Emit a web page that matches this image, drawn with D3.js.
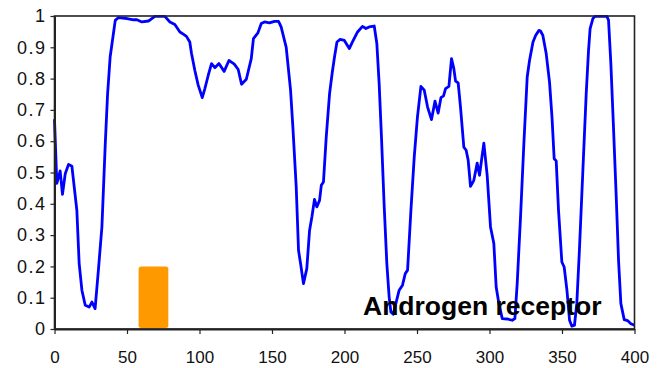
<!DOCTYPE html>
<html>
<head>
<meta charset="utf-8">
<script src="https://cdn.jsdelivr.net/npm/d3@7"></script>
<style>
  html, body { margin: 0; padding: 0; background: #fff; }
  svg { display: block; }
  text { font-family: Arial, "Liberation Sans", sans-serif; }
</style>
</head>
<body>
<svg id="chart" width="661" height="368"></svg>
<script>
// Residue position along the sequence
const positions = [
  0, 1.6, 3.9, 5.5, 7.4, 9.7, 12, 15.4, 17, 18.9, 21.2, 23.9, 25.8, 28, 30.3, 32.7, 35, 36.6, 38.4, 40.3,
  41.9, 44.1, 50, 54.5, 56.8, 60.3, 64.8, 69.2, 76.1, 79.6, 83, 86.5, 88.8, 91, 93.3, 94.5, 96.8, 99.1,
  101.9, 103.7, 106, 108.3, 110.6, 113.4, 117, 120.3, 124, 126.7, 129, 132.3, 135.7, 137.2, 140.3, 142.6,
  144.8, 148.2, 151.7, 154.5, 156.3, 159.8, 162.8, 164.4, 166.7, 168.3, 169.7, 171.7, 174, 175.9, 177.5,
  179.3, 180.9, 182.8, 184, 185.5, 187.4, 189.7, 191.6, 193.1, 194.8, 197, 199.9, 203.3, 205.5, 209,
  212.4, 214.8, 217, 220.5, 222.3, 223.9, 225.5, 227.3, 229.2, 230.8, 232, 233.6, 235.4, 237.7, 240,
  241.9, 243.5, 245.8, 248.1, 250.3, 252.7, 255, 257.3, 260, 262.4, 264.6, 266.5, 268.3, 269.7, 272,
  273.8, 275.4, 276.6, 278.4, 280, 282.3, 283.9, 285.3, 286.9, 289.2, 291.5, 293.1, 294.5, 296.1, 298.4,
  300.7, 303, 304.6, 306.5, 308.8, 312.2, 315.7, 317.5, 319.1, 321.4, 323.7, 326, 327.6, 330, 331.8,
  334.1, 335.2, 336.8, 339.1, 341.4, 343.1, 344.6, 346, 347.6, 349.9, 351.5, 353.4, 355.2, 356.8, 358.6,
  360.2, 362, 364.4, 366.7, 368.3, 369.4, 371.3, 372.9, 381, 382.1, 383.7, 385.5, 387.4, 389, 390.6,
  392.9, 395.2, 397.5, 400
];

// Disorder score at each position (0..1)
const scores = [
  0.67, 0.465, 0.505, 0.43, 0.496, 0.526, 0.52, 0.38, 0.21, 0.124, 0.076, 0.07, 0.086, 0.065, 0.19, 0.326, 0.59, 0.75, 0.87, 0.933,
  0.986, 0.995, 0.992, 0.988, 0.988, 0.981, 0.984, 0.999, 0.999, 0.981, 0.973, 0.949, 0.942, 0.935, 0.917, 0.88, 0.826, 0.779,
  0.739, 0.768, 0.81, 0.848, 0.835, 0.848, 0.823, 0.858, 0.846, 0.829, 0.782, 0.798, 0.864, 0.928, 0.946, 0.976,
  0.981, 0.978, 0.983, 0.983, 0.965, 0.9, 0.763, 0.645, 0.454, 0.251, 0.209, 0.145, 0.193, 0.315, 0.358,
  0.414, 0.39, 0.411, 0.459, 0.47, 0.613, 0.752, 0.821, 0.869, 0.917, 0.925, 0.922, 0.896, 0.917, 0.949,
  0.967, 0.96, 0.965, 0.968, 0.912, 0.784, 0.613, 0.4, 0.209, 0.102, 0.054, 0.047, 0.081, 0.124, 0.14,
  0.177, 0.188, 0.379, 0.55, 0.677, 0.775, 0.763, 0.709, 0.669, 0.728, 0.69, 0.739, 0.745, 0.768, 0.775,
  0.864, 0.832, 0.792, 0.786, 0.709, 0.581, 0.571, 0.539, 0.456, 0.475, 0.53, 0.491, 0.539, 0.594, 0.491,
  0.326, 0.273, 0.134, 0.081, 0.033, 0.032, 0.028, 0.033, 0.145, 0.358, 0.592, 0.805, 0.858, 0.917, 0.938,
  0.954, 0.952, 0.938, 0.88, 0.789, 0.677, 0.544, 0.537, 0.379, 0.214, 0.198, 0.124, 0.028, 0.009, 0.012,
  0.081, 0.251, 0.507, 0.752, 0.89, 0.96, 0.992, 0.999, 0.999, 0.986, 0.848, 0.645, 0.422, 0.219, 0.081,
  0.03, 0.027, 0.017, 0.012
];

// Highlighted segment (start, end, height)
const regionStart = 58;
const regionEnd = 78.5;
const regionHeight = 0.2;

const xTicks = [0, 50, 100, 150, 200, 250, 300, 350, 400];
const yTicks = [0, 0.1, 0.2, 0.3, 0.4, 0.5, 0.6, 0.7, 0.8, 0.9, 1];
const title = "Androgen receptor";

const data = positions.map((p, i) => ({ x: p, y: scores[i] }));

const svg = d3.select("#chart");
const plotLeft = 54.5, plotRight = 634.5, plotTop = 16, plotBottom = 329;

const x = d3.scaleLinear().domain([0, 400]).range([plotLeft, plotRight]);
const y = d3.scaleLinear().domain([0, 1]).range([plotBottom, plotTop]);

// Highlighted region
svg.append("rect")
  .attr("x", x(regionStart))
  .attr("y", y(regionHeight))
  .attr("width", x(regionEnd) - x(regionStart))
  .attr("height", y(0) - y(regionHeight) - 1)
  .attr("rx", 2.5)
  .attr("fill", "#FF9900");

// Score trace
svg.append("path")
  .datum(data)
  .attr("fill", "none")
  .attr("stroke", "#0000FF")
  .attr("stroke-width", 2.8)
  .attr("stroke-linejoin", "round")
  .attr("d", d3.line().x(d => x(d.x)).y(d => y(d.y)));

// Plot frame
svg.append("rect")
  .attr("x", plotLeft).attr("y", plotTop)
  .attr("width", plotRight - plotLeft).attr("height", plotBottom - plotTop)
  .attr("fill", "none")
  .attr("stroke", "#222")
  .attr("stroke-width", 1.6);

// Axes
const xAxis = svg.append("g")
  .attr("transform", `translate(0,${plotBottom})`)
  .call(d3.axisBottom(x).tickValues(xTicks).tickSize(5).tickSizeOuter(0).tickPadding(17).tickFormat(d3.format("d")));
const yAxis = svg.append("g")
  .attr("transform", `translate(${plotLeft},0)`)
  .call(d3.axisLeft(y).tickValues(yTicks).tickSize(4).tickSizeOuter(0).tickPadding(4).tickFormat(d => d === 0 || d === 1 ? String(d) : d.toFixed(1)));

[xAxis, yAxis].forEach(g => {
  g.select(".domain").attr("stroke", "#222").attr("stroke-width", 2);
  g.selectAll(".tick line").attr("stroke", "#222").attr("stroke-width", 1.2);
  g.selectAll(".tick text")
    .attr("fill", "#111")
    .style("font-family", "Arial, 'Liberation Sans', sans-serif")
    .style("font-size", "17px");
});
yAxis.selectAll(".tick text")
  .style("font-size", "18px")
  .style("letter-spacing", "1.5px");

// Protein name
svg.append("text")
  .attr("x", 363)
  .attr("y", 315)
  .attr("font-size", "26.5px")
  .attr("font-weight", "bold")
  .attr("fill", "#000")
  .text(title);
</script>
</body>
</html>
